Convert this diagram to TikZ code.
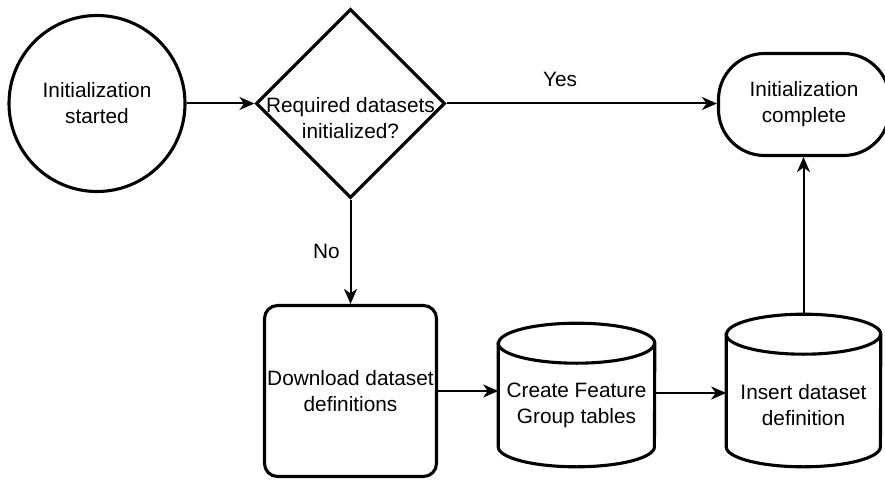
\documentclass[tikz,border=0pt]{standalone}
\usepackage{fontspec}
\setmainfont{Liberation Sans}
\usetikzlibrary{arrows.meta,shapes.geometric}

\begin{document}
\begin{tikzpicture}[x=1pt,y=-1pt,
  shapeline/.style={line width=3.1pt, draw=black, fill=white},
  flow/.style={line width=2pt, -{Stealth[length=15pt,width=13pt,inset=4.5pt]}},
  txt/.style={align=center, font=\fontsize{20.8}{26}\selectfont, inner sep=0pt},
  holder/.style={draw=none, inner sep=0pt, rectangle}]
\useasboundingbox (0,0) rectangle (885,481);

% start and end events
\node[circle, shapeline, minimum size=176pt, inner sep=0pt, txt] (start) at (97,103.5) {Initialization\\started};
\node[rectangle, shapeline, rounded corners=46pt, minimum width=171pt, minimum height=102pt, txt] (done) at (804,104.5) {Initialization\\complete};

% decision
\node[diamond, shapeline, aspect=1, minimum width=189pt, minimum height=189pt, inner sep=0pt] (dec) at (350.5,103.5) {};
\node[txt] (dectext) at (350.5,118) {Required datasets\\initialized?};

% download step
\node[rectangle, shapeline, rounded corners=13pt, minimum width=172pt, minimum height=171pt, txt] (dl) at (350.5,391) {Download dataset\\definitions};

% storage steps (cylinders drawn around placeholder nodes)
\node[holder, minimum width=156.2pt, minimum height=143.2pt] (c1) at (576.5,395) {};
\node[holder, minimum width=154.2pt, minimum height=152.2pt] (c2) at (803.5,390.5) {};

\draw[shapeline] ([yshift=-20pt]c1.north west) -- ([yshift=20pt]c1.south west)
  arc[start angle=180,end angle=360,x radius=78.1pt,y radius=20pt]
  -- ([yshift=-20pt]c1.north east)
  arc[start angle=0,end angle=180,x radius=78.1pt,y radius=20pt] -- cycle;
\draw[shapeline, fill=none] ([yshift=-20pt]c1.north west)
  arc[start angle=180,end angle=360,x radius=78.1pt,y radius=20pt];

\draw[shapeline] ([yshift=-20pt]c2.north west) -- ([yshift=20pt]c2.south west)
  arc[start angle=180,end angle=360,x radius=77.1pt,y radius=20pt]
  -- ([yshift=-20pt]c2.north east)
  arc[start angle=0,end angle=180,x radius=77.1pt,y radius=20pt] -- cycle;
\draw[shapeline, fill=none] ([yshift=-20pt]c2.north west)
  arc[start angle=180,end angle=360,x radius=77.1pt,y radius=20pt];

\node[txt] (c1text) at (576.5,405) {Create Feature\\Group tables};
\node[txt] (c2text) at (803.5,405) {Insert dataset\\definition};

% connectors
\draw[flow] (start.east) -- (start.east -| dec.west);
\draw[flow] (dec.east) -- (dec.east -| done.west)
  node[txt, pos=0.42, yshift=24pt] (yes) {Yes};
\draw[flow] (dec.south) -- (dl.north)
  node[txt, midway, xshift=-24pt] (no) {No};
\draw[flow] (dl.east) -- (dl.east -| c1.west);
\draw[flow] ([yshift=2pt]c1.east) -- ([yshift=2pt]c1.east -| c2.west);
\draw[flow] (c2.north) -- (c2.north |- done.south);
\end{tikzpicture}
\end{document}
